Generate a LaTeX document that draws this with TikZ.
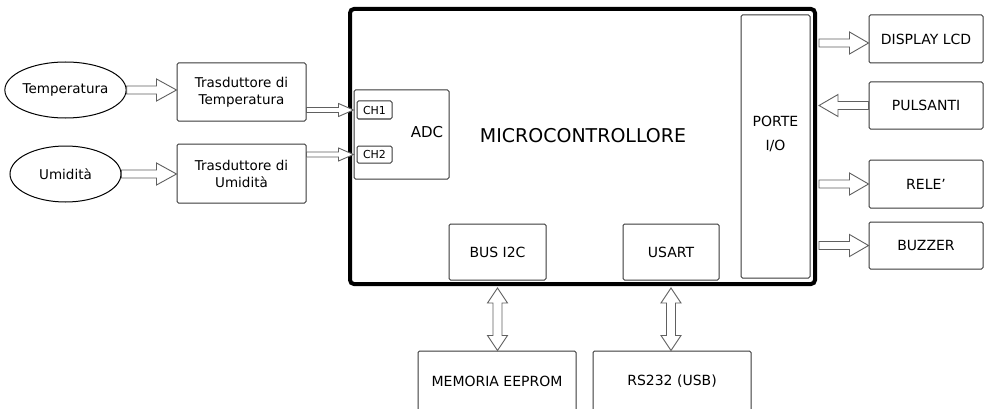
\documentclass[tikz,border=0pt]{standalone}
\usepackage{fontspec}
\setmainfont{DejaVu Sans}
\usetikzlibrary{calc,shapes.geometric}
\definecolor{boxline}{HTML}{3A3A3A}
\definecolor{arrline}{HTML}{606060}
\tikzset{
  box/.style={draw=boxline, line width=1pt, rounded corners=1.5pt, fill=white, inner sep=0pt, align=center, font=\fontsize{13.5}{17}\selectfont},
  oval/.style={draw=black, line width=1pt, ellipse, inner sep=0pt, font=\fontsize{13.5}{17}\selectfont},
  barrow/.style={draw=arrline, line width=0.9pt, fill=white, line join=miter},
  lbl/.style={inner sep=0pt, align=center, font=\fontsize{13.5}{17}\selectfont},
}
% horizontal block arrow: start, end, shaft half-width, head half-width, head length
\newcommand{\harrow}[5]{%
  \draw[barrow] let \p1=#1, \p2=#2, \n1={sign(\x2-\x1)} in
    (\x1,\y1+#3) -- (\x2-\n1*#5,\y1+#3) -- (\x2-\n1*#5,\y1+#4) -- (\x2,\y1)
    -- (\x2-\n1*#5,\y1-#4) -- (\x2-\n1*#5,\y1-#3) -- (\x1,\y1-#3) -- cycle;}
% vertical double block arrow
\newcommand{\vdarrow}[5]{%
  \draw[barrow] let \p1=#1, \p2=#2, \n1={sign(\y2-\y1)} in
    (\x1,\y1) -- (\x1+#4,\y1+\n1*#5) -- (\x1+#3,\y1+\n1*#5) -- (\x1+#3,\y2-\n1*#5)
    -- (\x1+#4,\y2-\n1*#5) -- (\x1,\y2) -- (\x1-#4,\y2-\n1*#5) -- (\x1-#3,\y2-\n1*#5)
    -- (\x1-#3,\y1+\n1*#5) -- (\x1-#4,\y1+\n1*#5) -- cycle;}
\begin{document}
\begin{tikzpicture}[x=1pt, y=-1pt]
\clip (0,0) rectangle (984,409);
\fill[white] (0,0) rectangle (984,409);

% sensors
\node[oval, minimum width=111pt, minimum height=56pt] (temp) at (65.5,90) {Temperatura};
\node[oval, minimum width=111pt, minimum height=56pt] (umid) at (65.5,174) {Umidità};

% transducers
\node[box, minimum width=129pt, minimum height=58pt] (tt) at (241.5,92) {Trasduttore di\\Temperatura};
\node[box, minimum width=129pt, minimum height=59pt] (tu) at (241.5,173.5) {Trasduttore di\\Umidità};

% microcontroller
\node[draw=black, line width=4pt, rounded corners=4pt, minimum width=465pt, minimum height=275pt, inner sep=0pt] (mcu) at (582.5,146.5) {};
\node[lbl, font=\fontsize{19}{23}\selectfont] (mcul) at (583,136) {MICROCONTROLLORE};

% ADC
\node[box, minimum width=95pt, minimum height=89pt] (adc) at (401.5,134.5) {};
\node[lbl, font=\fontsize{15}{18}\selectfont] (adcl) at (427,132) {ADC};
\node[box, minimum width=35pt, minimum height=18pt, font=\fontsize{11}{13}\selectfont] (ch1) at (374.5,110) {CH1};
\node[box, minimum width=35pt, minimum height=17pt, font=\fontsize{11}{13}\selectfont] (ch2) at (374.5,154.5) {CH2};

% porte I/O
\node[box, minimum width=69pt, minimum height=263pt] (porte) at (775.5,146.5) {};
\node[lbl, font=\fontsize{14}{24}\selectfont] (portel) at (775.5,134) {PORTE\\I/O};

% internal peripherals
\node[box, minimum width=97pt, minimum height=56pt, font=\fontsize{14}{17}\selectfont] (bus) at (497.5,252) {BUS I2C};
\node[box, minimum width=96pt, minimum height=56pt, font=\fontsize{14}{17}\selectfont] (usart) at (671,252) {USART};

% external boxes right
\node[box, minimum width=114pt, minimum height=48pt, font=\fontsize{14}{17}\selectfont] (disp) at (926,39) {DISPLAY LCD};
\node[box, minimum width=114pt, minimum height=47pt, font=\fontsize{14}{17}\selectfont] (puls) at (926,105.5) {PULSANTI};
\node[box, minimum width=114pt, minimum height=48pt, font=\fontsize{14}{17}\selectfont] (rele) at (926,184) {RELE’};
\node[box, minimum width=114pt, minimum height=47pt, font=\fontsize{14}{17}\selectfont] (buzz) at (926,245.5) {BUZZER};

% bottom boxes (cut off by the frame)
\node[box, minimum width=158pt, minimum height=60pt, font=\fontsize{14}{17}\selectfont] (eeprom) at (497,381) {MEMORIA EEPROM};
\node[box, minimum width=158pt, minimum height=60pt, font=\fontsize{14}{17}\selectfont] (rs) at (672,381) {RS232 (USB)};

% arrows
\harrow{(temp.east)}{(tt.west |- temp.east)}{4pt}{11pt}{20pt}
\harrow{(umid.east)}{(tu.west |- umid.east)}{4pt}{11pt}{20pt}
\harrow{(tt.east |- ch1.west)}{(adc.west |- ch1.west)}{2.5pt}{6.5pt}{15pt}
\harrow{(tu.east |- ch2.west)}{(adc.west |- ch2.west)}{2.5pt}{6.5pt}{15pt}

\coordinate (dispA) at (0,43);
\path (mcu.east) ++(2,0) coordinate (mcuE);
\harrow{(mcuE |- dispA)}{(disp.west |- dispA)}{4pt}{11pt}{19pt}
\harrow{(puls.west)}{(mcuE |- puls.west)}{4pt}{11pt}{19pt}
\harrow{(mcuE |- rele.west)}{(rele.west)}{4pt}{11pt}{19pt}
\harrow{(mcuE |- buzz.west)}{(buzz.west)}{4pt}{11pt}{19pt}

\path (mcu.south) ++(0,2) coordinate (mcuS);
\vdarrow{(bus.south |- mcuS)}{(bus.south |- eeprom.north)}{4.5pt}{10pt}{15pt}
\vdarrow{(usart.south |- mcuS)}{(usart.south |- rs.north)}{4.5pt}{10pt}{15pt}
\end{tikzpicture}
\end{document}
